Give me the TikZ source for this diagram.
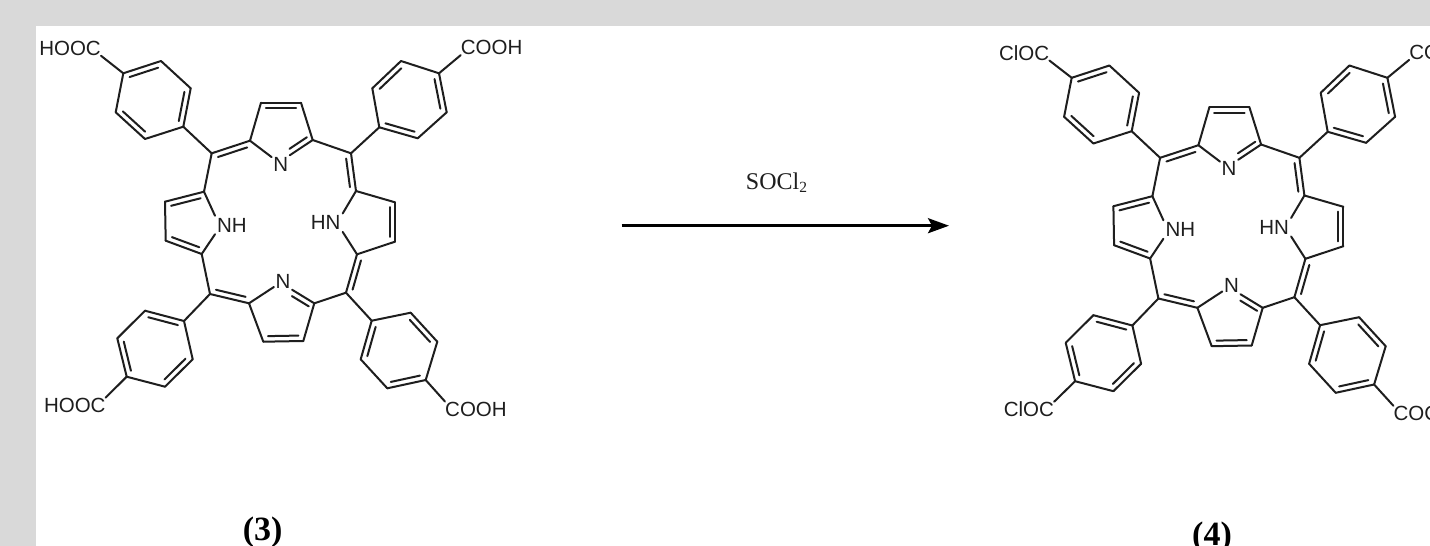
\documentclass[tikz,border=0pt]{standalone}
\usepackage{fontspec}
\setmainfont{Liberation Sans}
\newfontfamily\tmsfont{Liberation Serif}
\usetikzlibrary{calc,arrows.meta}
\definecolor{pagegrey}{HTML}{D9D9D9}
\definecolor{ink}{HTML}{1E1E1E}
\tikzset{
  bond/.style={draw=ink,line width=2pt,line cap=round,line join=round},
  atomlabel/.style={text=ink,font=\fontsize{20.5}{20.5}\selectfont,inner sep=0pt},
  hetero/.style={atomlabel,inner sep=1.5pt},
  reagent/.style={text=ink,font=\tmsfont\fontsize{24}{24}\selectfont,inner sep=0pt},
  compound/.style={text=black,font=\tmsfont\bfseries\fontsize{34}{34}\selectfont,inner sep=0pt,anchor=base},
  reaction/.style={draw=black,line width=2.6pt,-{Stealth[length=21pt,width=15pt,inset=4pt]}}
}
% double bond: the second line lies to the right of the way a -> b
\newcommand{\dbl}[2]{%
  \draw[bond] (#1) -- (#2);
  \draw[bond] ($(#1)!.12!(#2)!5.5pt!-90:(#2)$) -- ($(#2)!.12!(#1)!5.5pt!90:(#1)$);
}
\newcommand{\sgl}[2]{\draw[bond] (#1) -- (#2);}
\newcommand{\mol}[5]{%
  % benzene, upper left
  \coordinate (#1a1) at (123.3,73.3); \coordinate (#1a2) at (161,61);
  \coordinate (#1a3) at (190.7,88.3); \coordinate (#1a4) at (183.3,126.7);
  \coordinate (#1a5) at (145,139);    \coordinate (#1a6) at (115.7,112.3);
  % benzene, upper right
  \coordinate (#1b1) at (439,73.3);   \coordinate (#1b2) at (446.7,112.3);
  \coordinate (#1b3) at (417.7,138.3);\coordinate (#1b4) at (379.3,127.3);
  \coordinate (#1b5) at (372.3,88.3); \coordinate (#1b6) at (401,61);
  % benzene, lower left
  \coordinate (#1c1) at (126.7,376.7);\coordinate (#1c2) at (117.3,338.3);
  \coordinate (#1c3) at (145,310.7);  \coordinate (#1c4) at (184,321);
  \coordinate (#1c5) at (192.7,359.3);\coordinate (#1c6) at (165,386.7);
  % benzene, lower right
  \coordinate (#1d1) at (425.7,380);  \coordinate (#1d2) at (387.3,388.3);
  \coordinate (#1d3) at (360.7,359.3);\coordinate (#1d4) at (371.7,320.7);
  \coordinate (#1d5) at (410.7,312.7);\coordinate (#1d6) at (437.3,341.7);
  % meso carbons
  \coordinate (#1m1) at (211.7,153.3);\coordinate (#1m2) at (351,153.3);
  \coordinate (#1m3) at (346,292.7);  \coordinate (#1m4) at (210,294);
  % pyrroles
  \coordinate (#1t1) at (250,140.7);  \coordinate (#1t2) at (261,102.7);
  \coordinate (#1t3) at (301,102.7);  \coordinate (#1t4) at (312.7,140);
  \coordinate (#1l1) at (204,191.7);  \coordinate (#1l2) at (165,201.7);
  \coordinate (#1l3) at (165.7,240.7);\coordinate (#1l4) at (201.7,254);
  \coordinate (#1r1) at (356,191);    \coordinate (#1r2) at (395,202.3);
  \coordinate (#1r3) at (395,241.7);  \coordinate (#1r4) at (357,254.3);
  \coordinate (#1u1) at (249,303.3);  \coordinate (#1u2) at (263.3,341.7);
  \coordinate (#1u3) at (303.3,341);  \coordinate (#1u4) at (314.3,303.3);
  % labels
  \node[hetero] (#1Nt) at (280.7,164) {N};
  \node[hetero] (#1Nu) at (283,281) {N};
  \node[hetero,inner sep=2pt] (#1NH) at (232,225) {NH};
  \node[hetero,inner sep=2pt] (#1HN) at (325.7,222.7) {HN};
  \node[atomlabel,anchor=east] (#1sa) at (101,48.3) {#2};
  \node[atomlabel,anchor=west] (#1sb) at (460.7,47.7) {#3};
  \node[atomlabel,anchor=east] (#1sc) at (105.7,405) {#4};
  \node[atomlabel,anchor=west] (#1sd) at (445,409) {#5};
  % benzene rings
  \dbl{#1a1}{#1a2}\sgl{#1a2}{#1a3}\dbl{#1a3}{#1a4}\sgl{#1a4}{#1a5}\dbl{#1a5}{#1a6}\sgl{#1a6}{#1a1}
  \dbl{#1b1}{#1b2}\sgl{#1b2}{#1b3}\dbl{#1b3}{#1b4}\sgl{#1b4}{#1b5}\dbl{#1b5}{#1b6}\sgl{#1b6}{#1b1}
  \dbl{#1c1}{#1c2}\sgl{#1c2}{#1c3}\dbl{#1c3}{#1c4}\sgl{#1c4}{#1c5}\dbl{#1c5}{#1c6}\sgl{#1c6}{#1c1}
  \dbl{#1d1}{#1d2}\sgl{#1d2}{#1d3}\dbl{#1d3}{#1d4}\sgl{#1d4}{#1d5}\dbl{#1d5}{#1d6}\sgl{#1d6}{#1d1}
  % substituents
  \sgl{#1a1}{#1sa.south east}\sgl{#1b1}{#1sb.south west}
  \sgl{#1c1}{#1sc.north east}\sgl{#1d1}{#1sd.north west}
  \sgl{#1a4}{#1m1}\sgl{#1b4}{#1m2}\sgl{#1c4}{#1m4}\sgl{#1d4}{#1m3}
  % top pyrrole
  \sgl{#1t1}{#1t2}\dbl{#1t2}{#1t3}\sgl{#1t3}{#1t4}\sgl{#1t1}{#1Nt}
  \dbl{#1t4}{#1Nt.north east}
  % left pyrrole
  \dbl{#1l2}{#1l1}\sgl{#1l2}{#1l3}\dbl{#1l4}{#1l3}
  \sgl{#1l1}{#1NH.north west}\sgl{#1l4}{#1NH.south west}
  % right pyrrole
  \sgl{#1r1}{#1r2}\dbl{#1r2}{#1r3}\sgl{#1r3}{#1r4}
  \sgl{#1r1}{#1HN.north east}\sgl{#1r4}{#1HN.south east}
  % bottom pyrrole
  \sgl{#1u1}{#1u2}\dbl{#1u3}{#1u2}\sgl{#1u3}{#1u4}\sgl{#1u1}{#1Nu}
  \dbl{#1Nu.south east}{#1u4}
  % meso links
  \dbl{#1m1}{#1t1}\sgl{#1m1}{#1l1}
  \sgl{#1m2}{#1t4}\dbl{#1m2}{#1r1}
  \dbl{#1m3}{#1r4}\sgl{#1m3}{#1u4}
  \dbl{#1u1}{#1m4}\sgl{#1m4}{#1l4}
}
\begin{document}
\begin{tikzpicture}[x=1pt,y=-1pt]
  \useasboundingbox (0,0) rectangle (1430,546);
  \clip (0,0) rectangle (1430,546);
  \fill[pagegrey] (0,0) rectangle (1430,546);
  \fill[white] (36,26) rectangle (1430,546);

  \mol{p}{HOOC}{COOH}{HOOC}{COOH}
  \begin{scope}[shift={(948.4,4.5)}]
    \mol{q}{ClOC}{COCl}{ClOC}{COCl}
  \end{scope}

  \coordinate (arrowstart) at (621.7,225.7);
  \coordinate (arrowend) at (949,225.7);
  \draw[reaction] (arrowstart) -- (arrowend);
  \node[reagent,anchor=base] (socl) at (776.5,189) {SOCl\raisebox{-3pt}{\fontsize{15.5}{15.5}\selectfont 2}};

  \node[compound] (c3) at (262.7,540) {(3)};
  \node[compound] (c4) at (1212,545) {(4)};
\end{tikzpicture}
\end{document}
